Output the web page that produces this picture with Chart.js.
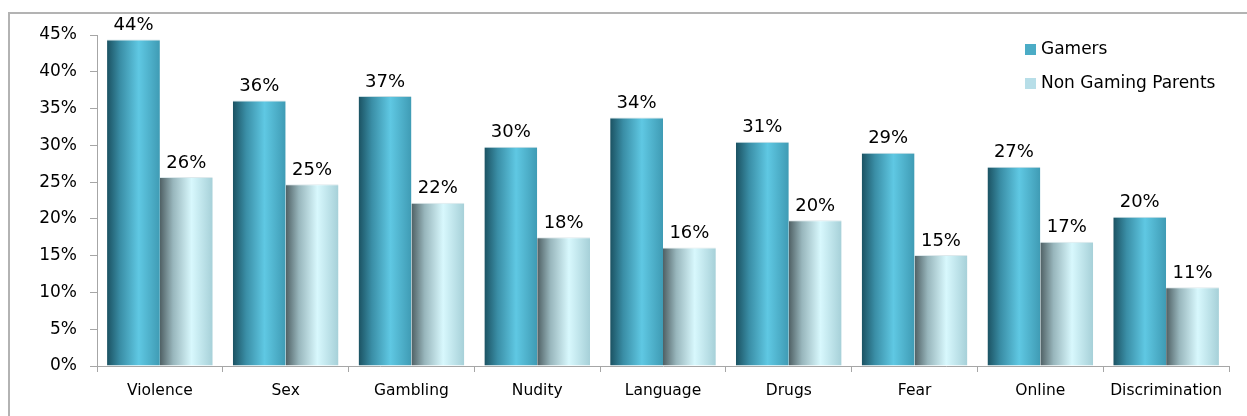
<!DOCTYPE html>
<html>
<head>
<meta charset="utf-8">
<script src="https://cdn.jsdelivr.net/npm/chart.js@4/dist/chart.umd.min.js"></script>
<style>
html,body{margin:0;padding:0;background:#fff;}
#wrap{position:absolute;left:0;top:0;width:1247px;height:416px;}
</style>
</head>
<body>
<div id="wrap"><canvas id="c" width="1247" height="416"></canvas></div>
<script>
const categories = ["Violence","Sex","Gambling","Nudity","Language","Drugs","Fear","Online","Discrimination"];
const gamers = [44.4, 36.1, 36.7, 29.8, 33.8, 30.5, 29.0, 27.1, 20.3];
const nonGamingParents = [25.7, 24.7, 22.2, 17.5, 16.1, 19.8, 15.1, 16.9, 10.7];
const seriesNames = ["Gamers","Non Gaming Parents"];
const yTicks = [0,5,10,15,20,25,30,35,40,45];

const FONT = "'DejaVu Sans', Verdana, sans-serif";
const CAT_PCT = 0.84;

function barGradient(ctx, dsIndex) {
  const chart = ctx.chart;
  const xs = chart.scales && chart.scales.x;
  const solid = dsIndex === 0 ? '#4BACC6' : '#B7DEE8';
  if (!chart.chartArea || !xs || ctx.dataIndex === undefined) return solid;
  const catW = xs.width / categories.length;
  const barW = catW * CAT_PCT / 2;
  const c = xs.getPixelForValue(ctx.dataIndex);
  const left = dsIndex === 0 ? c - barW : c;
  const g = chart.ctx.createLinearGradient(left, 0, left + barW, 0);
  if (dsIndex === 0) {
    g.addColorStop(0, '#1b5262');
    g.addColorStop(0.25, '#3a8ea6');
    g.addColorStop(0.6, '#5fc8e3');
    g.addColorStop(1, '#3f9bb4');
  } else {
    g.addColorStop(0, '#4f6064');
    g.addColorStop(0.25, '#98b6bc');
    g.addColorStop(0.6, '#d8f8fd');
    g.addColorStop(1, '#a6d0d8');
  }
  return g;
}

const frameAndLabels = {
  id: 'frameAndLabels',
  beforeDraw(chart) {
    const ctx = chart.ctx;
    ctx.save();
    ctx.strokeStyle = '#b3b3b3';
    ctx.lineWidth = 2;
    ctx.strokeRect(9, 13, 1400, 600);
    ctx.restore();
  },
  afterDatasetsDraw(chart) {
    const ctx = chart.ctx;
    ctx.save();
    ctx.font = '18px ' + FONT;
    ctx.fillStyle = '#000';
    ctx.textAlign = 'center';
    ctx.textBaseline = 'bottom';
    chart.data.datasets.forEach((ds, i) => {
      const meta = chart.getDatasetMeta(i);
      meta.data.forEach((el, j) => {
        ctx.fillText(Math.round(ds.data[j]) + '%', el.x, el.y - 5);
      });
    });
    // legend
    const lx = 1025, ly = [50, 84];
    ctx.font = '17px ' + FONT;
    ctx.textAlign = 'left';
    ctx.textBaseline = 'middle';
    chart.data.datasets.forEach((ds, i) => {
      ctx.fillStyle = ds.legendColor;
      ctx.fillRect(lx, ly[i] - 6, 11, 11);
      ctx.fillStyle = '#000';
      ctx.fillText(ds.label, lx + 16, ly[i]);
    });
    ctx.restore();
  }
};

new Chart(document.getElementById('c'), {
  type: 'bar',
  data: {
    labels: categories,
    datasets: [
      { label: seriesNames[0], data: gamers, legendColor: '#4BACC6',
        backgroundColor: (ctx) => barGradient(ctx, 0),
        borderColor: '#c9dde2', borderWidth: { top: 1, left: 0, right: 0, bottom: 0 },
        categoryPercentage: CAT_PCT, barPercentage: 1.0 },
      { label: seriesNames[1], data: nonGamingParents, legendColor: '#B7DEE8',
        backgroundColor: (ctx) => barGradient(ctx, 1),
        borderColor: '#dde9ec', borderWidth: { top: 1, left: 0, right: 0, bottom: 0 },
        categoryPercentage: CAT_PCT, barPercentage: 1.0 }
    ]
  },
  options: {
    responsive: false,
    animation: false,
    devicePixelRatio: 1,
    layout: { padding: { left: 0, right: 18, top: 35, bottom: 0 } },
    plugins: { legend: { display: false }, tooltip: { enabled: false }, title: { display: false } },
    scales: {
      x: {
        grid: { display: true, drawOnChartArea: false, drawTicks: true, tickLength: 6, color: '#a6a6a6', offset: true },
        border: { display: true, color: '#a6a6a6', width: 1 },
        ticks: { color: '#000', font: { family: FONT, size: 15.5 }, padding: 10, maxRotation: 0, autoSkip: false },
        afterFit(scale) { scale.height = 50; }
      },
      y: {
        min: 0, max: 45,
        afterBuildTicks(scale) { scale.ticks = yTicks.map(v => ({ value: v })); },
        grid: { display: true, drawOnChartArea: false, drawTicks: true, tickLength: 7, color: '#a6a6a6' },
        border: { display: true, color: '#a6a6a6', width: 1 },
        ticks: { color: '#000', font: { family: FONT, size: 17 }, padding: 13, callback: v => v + '%' },
        afterFit(scale) { scale.width = 97; }
      }
    }
  },
  plugins: [frameAndLabels]
});
</script>
</body>
</html>
